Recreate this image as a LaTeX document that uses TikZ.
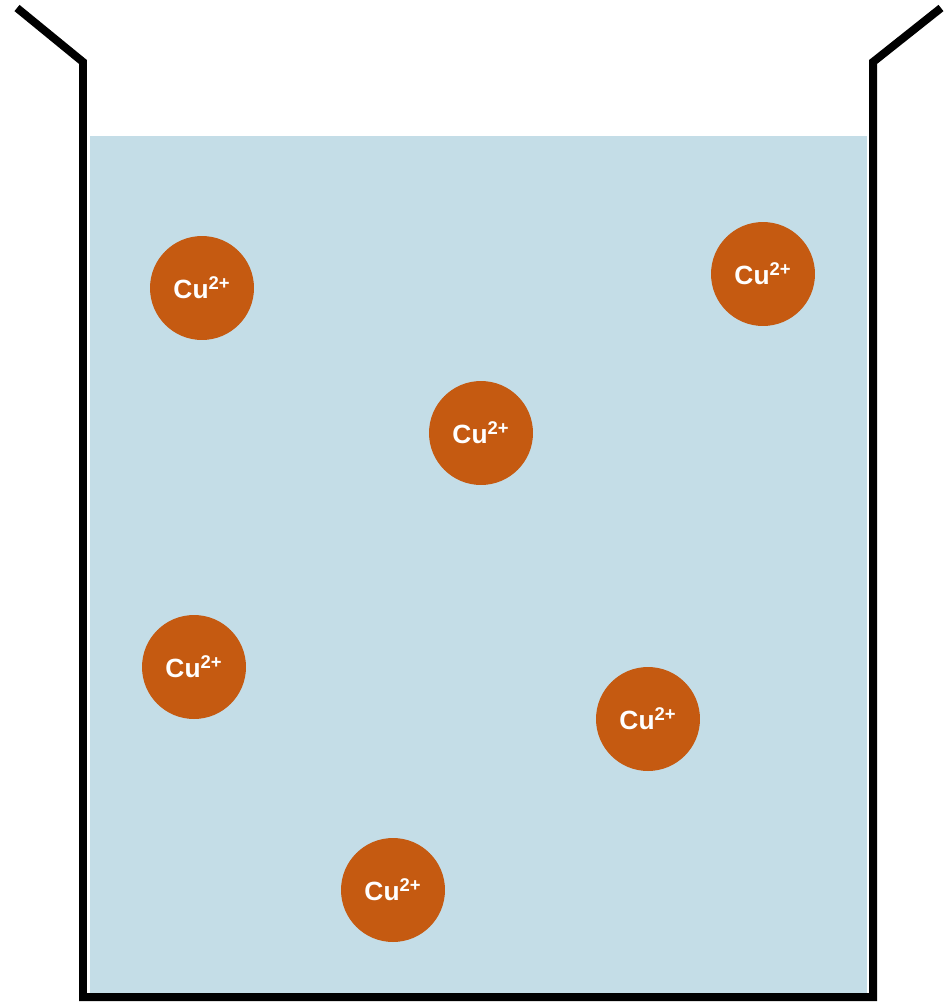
\documentclass[tikz,border=0pt]{standalone}
\usepackage{fontspec}
\setsansfont{Liberation Sans}
\usepackage{tikz}
\usetikzlibrary{positioning}
\definecolor{BeakerWater}{HTML}{C4DDE7}
\definecolor{IonCopper}{HTML}{C55A11}
\tikzset{
ion/.style={circle, fill=IonCopper, minimum size=2.08cm, inner sep=0pt, text=white,
  font=\sffamily\bfseries\fontsize{15}{17}\selectfont},
glass/.style={line width=0.16cm, black}
}
\newcommand{\cuion}{Cu\textsuperscript{2+}}

\begin{document}
\begin{tikzpicture}[x=0.02cm, y=-0.02cm]
\useasboundingbox (0,0) rectangle (948,1002);
\fill[BeakerWater] (90,136) rectangle (867,994);
\draw[glass] (17,8) -- (83,62) -- (83,997) -- (873,997) -- (873,62) -- (941,8);
\node[ion] (ion1) at (202,288) {\cuion};
\node[ion] (ion2) at (763,274) {\cuion};
\node[ion] (ion3) at (481,433) {\cuion};
\node[ion] (ion4) at (194,667) {\cuion};
\node[ion] (ion5) at (648,719) {\cuion};
\node[ion] (ion6) at (393,890) {\cuion};
\end{tikzpicture}
\end{document}
